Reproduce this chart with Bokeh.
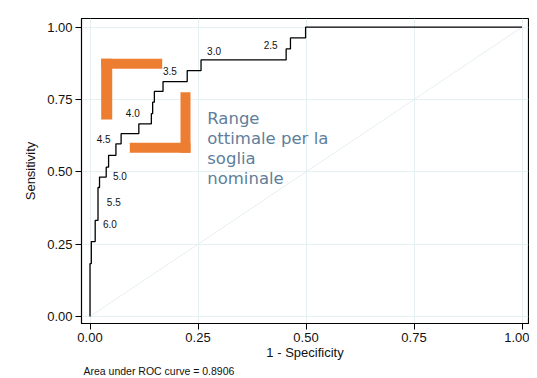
from bokeh.plotting import figure
from bokeh.models import Range1d, FixedTicker, PrintfTickFormatter, Title, ColumnDataSource
from bokeh.core.properties import value
from bokeh.embed import file_html
from bokeh.resources import INLINE

# ROC staircase vertices (1 - specificity, sensitivity)
fpr = [0.0, 0.0, 0.003, 0.003, 0.012, 0.012, 0.0185, 0.0185, 0.022, 0.022,
       0.0375, 0.0375, 0.043, 0.043, 0.060, 0.060, 0.072, 0.072, 0.113, 0.113,
       0.142, 0.142, 0.145, 0.145, 0.149, 0.149, 0.169, 0.169, 0.225, 0.225,
       0.257, 0.257, 0.454, 0.454, 0.464, 0.464, 0.499, 0.499, 1.0]
tpr = [0.0, 0.183, 0.183, 0.259, 0.259, 0.332, 0.332, 0.446, 0.446, 0.482,
       0.482, 0.516, 0.516, 0.557, 0.557, 0.597, 0.597, 0.632, 0.632, 0.666,
       0.666, 0.701, 0.701, 0.741, 0.741, 0.778, 0.778, 0.812, 0.812, 0.850,
       0.850, 0.887, 0.887, 0.925, 0.925, 0.963, 0.963, 1.0, 1.0]

# threshold labels and where they sit
thr_labels = ["2.5", "3.0", "3.5", "4.0", "4.5", "5.0", "5.5", "6.0"]
thr_x = [0.402, 0.271, 0.169, 0.083, 0.0155, 0.053, 0.039, 0.030]
thr_y = [0.937, 0.917, 0.847, 0.703, 0.6125, 0.484, 0.3975, 0.320]

ticks = [0.0, 0.25, 0.5, 0.75, 1.0]
auc_text = "Area under ROC curve = 0.8906"
note_lines = ["Range", "ottimale per la", "soglia", "nominale"]
note_x = 0.2713
note_y = [0.6833, 0.6142, 0.5451, 0.476]

ORANGE = "#ED7D31"
GRID = "#E6EFF1"
FONT = "Liberation Sans"

p = figure(width=529, height=376, output_backend="svg", toolbar_location=None,
           x_range=Range1d(-0.0197, 1.0150), y_range=Range1d(-0.0242, 1.0301),
           min_border_left=81, min_border_right=1, min_border_top=18, min_border_bottom=53)
p.background_fill_color = "white"
p.border_fill_color = "white"
p.outline_line_color = "black"
p.outline_line_width = 1.2

for ax in (p.xaxis[0], p.yaxis[0]):
    ax.ticker = FixedTicker(ticks=ticks)
    ax.formatter = PrintfTickFormatter(format="%.2f")
    ax.major_tick_out = 6
    ax.major_tick_in = 0
    ax.minor_tick_line_color = None
    ax.axis_line_color = "black"
    ax.major_tick_line_color = "black"
    ax.major_label_text_font = FONT
    ax.major_label_text_font_size = "13px"
    ax.major_label_text_color = "#111111"
    ax.axis_label_text_font = FONT
    ax.axis_label_text_font_size = "13px"
    ax.axis_label_text_font_style = "normal"
    ax.axis_label_text_color = "#111111"
    ax.major_label_standoff = 3

p.xaxis.axis_label = "1 - Specificity"
p.yaxis.axis_label = "Sensitivity"
p.yaxis.major_label_orientation = "horizontal"
p.xaxis.axis_label_standoff = 0
p.yaxis.axis_label_standoff = 6

p.xgrid.ticker = FixedTicker(ticks=ticks)
p.ygrid.ticker = FixedTicker(ticks=ticks)
p.grid.grid_line_color = GRID
p.grid.grid_line_width = 1

# reference diagonal
p.line([0, 1], [0, 1], line_color=GRID, line_width=1)

# orange brackets
p.quad(left=[0.0259, 0.0259], right=[0.1671, 0.0514], bottom=[0.8562, 0.681], top=[0.8908, 0.8908],
       fill_color=ORANGE, line_color=None)
p.quad(left=[0.2095, 0.0921], right=[0.2326, 0.2326], bottom=[0.5658, 0.5658], top=[0.7753, 0.6004],
       fill_color=ORANGE, line_color=None)

# ROC curve
p.line(fpr, tpr, line_color="black", line_width=1.3)

src = ColumnDataSource(dict(x=thr_x, y=thr_y, t=thr_labels))
p.text(x="x", y="y", text="t", source=src, text_font=value(FONT), text_font_size="10px",
       text_baseline="middle", text_align="left", text_color="#111111")

nsrc = ColumnDataSource(dict(x=[note_x] * 4, y=note_y, t=note_lines))
p.text(x="x", y="y", text="t", source=nsrc, text_font=value("DejaVu Sans"), text_font_size="16.5px",
       text_baseline="middle", text_align="left", text_color="#5E7E9B")

p.add_layout(Title(text=auc_text, align="left", offset=2, standoff=0, text_font=FONT,
                   text_font_size="10.5px", text_font_style="normal", text_color="#111111"), "below")

open("out.html", "w").write(file_html(p, INLINE))
